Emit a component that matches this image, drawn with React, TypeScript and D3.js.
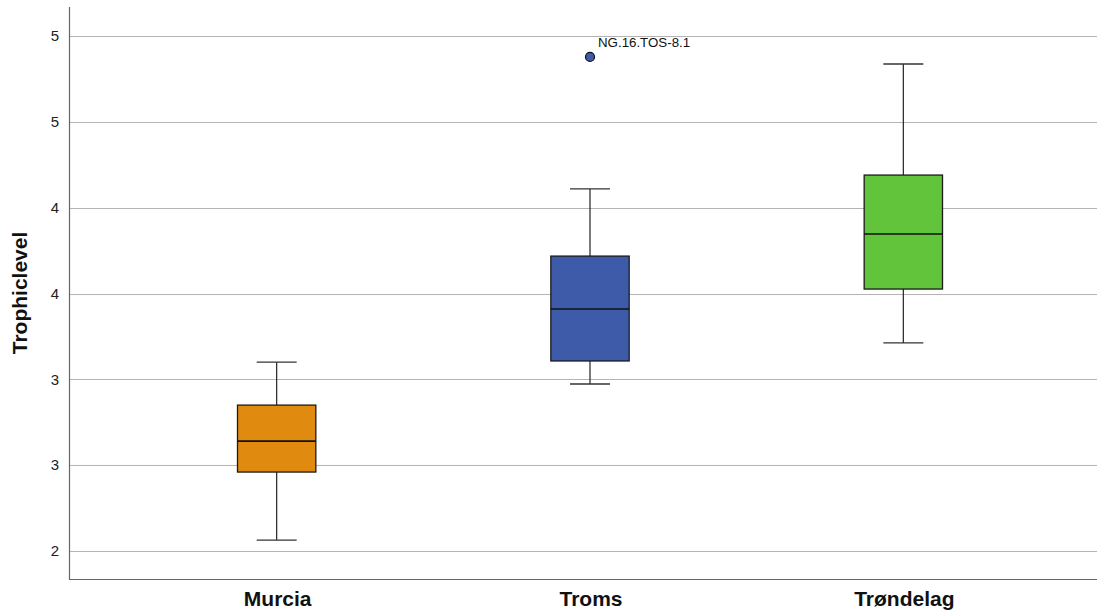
import React, { useRef, useEffect } from 'react';
import * as d3 from 'd3';

// box plot stats
const categories = ['Murcia', 'Troms', 'Trøndelag'];
const whiskerLow = [2.064, 2.973, 3.212];
const q1 = [2.46, 3.107, 3.526];
const median = [2.64, 3.41, 3.847];
const q3 = [2.85, 3.718, 4.19];
const whiskerHigh = [3.1, 4.109, 4.837];
const fills = ['#E08A10', '#3E5BA9', '#61C43B'];

const outliers = [{ cat: 'Troms', value: 4.878, label: 'NG.16.TOS-8.1' }];

const tickValues = [2, 2.5, 3, 3.5, 4, 4.5, 5];
const tickLabels = ['2', '3', '3', '4', '4', '5', '5'];

const W = 1102;
const H = 614;

const BoxPlot = () => {
  const ref = useRef<SVGSVGElement>(null);

  useEffect(() => {
    const svg = d3.select(ref.current);
    svg.selectAll('*').remove();

    const left = 69, right = 1097, top = 7, bottom = 579;

    const x = d3.scaleBand().domain(categories).range([120, 1060]).padding(0);
    const y = d3.scaleLinear().domain([1.837, 5.169]).range([bottom, top]);
    const boxW = x.bandwidth() * 0.25;
    const capW = boxW * 0.51;

    // gridlines
    svg.append('g')
      .selectAll('line')
      .data(tickValues)
      .join('line')
      .attr('x1', left).attr('x2', right)
      .attr('y1', d => Math.round(y(d)) + 0.5).attr('y2', d => Math.round(y(d)) + 0.5)
      .attr('stroke', '#b4b4b4').attr('stroke-width', 1.2);

    // y tick labels
    svg.append('g')
      .selectAll('text')
      .data(tickValues)
      .join('text')
      .attr('x', 59)
      .attr('y', d => y(d))
      .attr('dy', '0.35em')
      .attr('text-anchor', 'end')
      .attr('font-family', 'Liberation Sans, Arial, sans-serif')
      .attr('font-size', 15)
      .attr('fill', '#222')
      .text((d, i) => tickLabels[i]);

    // axes lines
    svg.append('line')
      .attr('x1', left + 0.5).attr('x2', left + 0.5)
      .attr('y1', top).attr('y2', bottom + 0.5)
      .attr('stroke', '#666').attr('stroke-width', 1.2);
    svg.append('line')
      .attr('x1', left).attr('x2', right)
      .attr('y1', bottom + 0.5).attr('y2', bottom + 0.5)
      .attr('stroke', '#666').attr('stroke-width', 1.2);

    const g = svg.append('g');
    categories.forEach((c, i) => {
      const cx = (x(c) as number) + x.bandwidth() / 2;
      // whiskers
      g.append('line')
        .attr('x1', cx).attr('x2', cx)
        .attr('y1', y(whiskerHigh[i])).attr('y2', y(q3[i]))
        .attr('stroke', '#222').attr('stroke-width', 1.2);
      g.append('line')
        .attr('x1', cx).attr('x2', cx)
        .attr('y1', y(q1[i])).attr('y2', y(whiskerLow[i]))
        .attr('stroke', '#222').attr('stroke-width', 1.2);
      [whiskerHigh[i], whiskerLow[i]].forEach(v => {
        g.append('line')
          .attr('x1', cx - capW / 2).attr('x2', cx + capW / 2)
          .attr('y1', y(v)).attr('y2', y(v))
          .attr('stroke', '#333').attr('stroke-width', 1.3);
      });
      // box
      g.append('rect')
        .attr('x', cx - boxW / 2)
        .attr('y', y(q3[i]))
        .attr('width', boxW)
        .attr('height', y(q1[i]) - y(q3[i]))
        .attr('fill', fills[i])
        .attr('stroke', '#1a1a1a').attr('stroke-width', 1.3);
      g.append('line')
        .attr('x1', cx - boxW / 2).attr('x2', cx + boxW / 2)
        .attr('y1', y(median[i])).attr('y2', y(median[i]))
        .attr('stroke', '#111').attr('stroke-width', 1.6);

      // category labels
      svg.append('text')
        .attr('x', cx + 1)
        .attr('y', 606)
        .attr('text-anchor', 'middle')
        .attr('font-family', 'Liberation Sans, Arial, sans-serif')
        .attr('font-size', 21)
        .attr('font-weight', 'bold')
        .attr('fill', '#111')
        .text(c);
    });

    // outliers
    outliers.forEach(o => {
      const i = categories.indexOf(o.cat);
      const cx = (x(o.cat) as number) + x.bandwidth() / 2;
      g.append('circle')
        .attr('cx', cx).attr('cy', y(o.value))
        .attr('r', 4.5)
        .attr('fill', fills[i])
        .attr('stroke', '#111').attr('stroke-width', 1.2);
      g.append('text')
        .attr('x', cx + 8).attr('y', y(o.value) - 10)
        .attr('font-family', 'Liberation Sans, Arial, sans-serif')
        .attr('font-size', 13.3)
        .attr('fill', '#111')
        .text(o.label);
    });

    // y axis title
    svg.append('text')
      .attr('transform', `translate(27,${(top + bottom) / 2}) rotate(-90)`)
      .attr('text-anchor', 'middle')
      .attr('font-family', 'Liberation Sans, Arial, sans-serif')
      .attr('font-size', 21)
      .attr('font-weight', 'bold')
      .attr('fill', '#111')
      .text('Trophiclevel');
  }, []);

  return (
    <svg
      ref={ref}
      width={W}
      height={H}
      style={{ position: 'absolute', left: 0, top: 0, background: '#fff' }}
    />
  );
};

export default function App() {
  return <BoxPlot />;
}
